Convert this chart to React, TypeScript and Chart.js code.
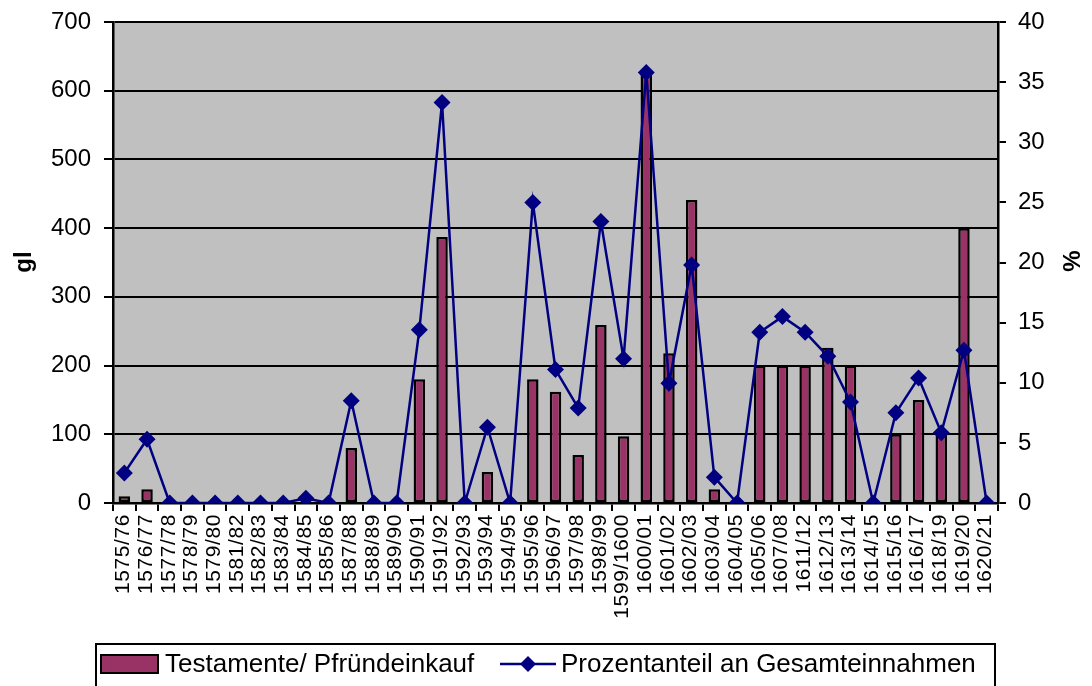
import React, { useEffect, useRef } from "react";
import { Chart, registerables } from "chart.js";

Chart.register(...registerables);

const categories = [
  "1575/76", "1576/77", "1577/78", "1578/79", "1579/80", "1581/82", "1582/83", "1583/84",
  "1584/85", "1585/86", "1587/88", "1588/89", "1589/90", "1590/91", "1591/92", "1592/93",
  "1593/94", "1594/95", "1595/96", "1596/97", "1597/98", "1598/99", "1599/1600", "1600/01",
  "1601/02", "1602/03", "1603/04", "1604/05", "1605/06", "1607/08", "1611/12", "1612/13",
  "1613/14", "1614/15", "1615/16", "1616/17", "1618/19", "1619/20", "1620/21",
];

const testamente = [
  10, 20, 0, 0, 0, 0, 0, 0,
  0, 0, 80, 0, 0, 180, 387, 0,
  45, 0, 180, 162, 70, 259, 97, 627,
  218, 441, 20, 0, 200, 200, 200, 226,
  200, 0, 100, 150, 100, 400, 0,
];

const prozent = [
  2.5, 5.3, 0, 0, 0, 0, 0, 0,
  0.4, 0, 8.5, 0, 0, 14.4, 33.3, 0,
  6.3, 0, 25.0, 11.1, 7.9, 23.4, 12.0, 35.8,
  9.95, 19.8, 2.15, 0, 14.2, 15.5, 14.2, 12.2,
  8.4, 0, 7.5, 10.4, 5.85, 12.7, 0,
];

const leftTicks = { min: 0, max: 700, step: 100 };
const rightTicks = { min: 0, max: 40, step: 5 };

const seriesNames = ["Testamente/ Pfründeinkauf", "Prozentanteil an Gesamteinnahmen"];
const axisTitles = { left: "gl", right: "%" };

const FONT = '"Liberation Sans", Arial, sans-serif';
const BAR_COLOR = "#993366";
const LINE_COLOR = "#000080";

const customPlugin = {
  id: "custom",
  beforeDraw(chart: any) {
    const { ctx, chartArea } = chart;
    ctx.save();
    ctx.fillStyle = "#FFFFFF";
    ctx.fillRect(0, 0, chart.width, chart.height);
    ctx.fillStyle = "#C0C0C0";
    ctx.fillRect(chartArea.left, chartArea.top, chartArea.right - chartArea.left, chartArea.bottom - chartArea.top);
    ctx.restore();
  },
  afterDraw(chart: any) {
    const { ctx } = chart;
    const xs = chart.scales.x;
    ctx.save();
    // x labels
    ctx.fillStyle = "#000";
    ctx.font = `21px ${FONT}`;
    ctx.textAlign = "right";
    ctx.textBaseline = "middle";
    try { (ctx as any).letterSpacing = "0.6px"; } catch (e) {}
    categories.forEach((lab, i) => {
      const x = xs.getPixelForValue(i) - 1;
      ctx.save();
      ctx.translate(x, 514);
      ctx.rotate(-Math.PI / 2);
      ctx.fillText(lab, 0, 0);
      ctx.restore();
    });
    try { (ctx as any).letterSpacing = "0px"; } catch (e) {}
    // axis titles
    ctx.font = `bold 24px ${FONT}`;
    ctx.textAlign = "center";
    ctx.textBaseline = "middle";
    ctx.save();
    ctx.translate(24, 262);
    ctx.rotate(-Math.PI / 2);
    ctx.fillText(axisTitles.left, 0, 0);
    ctx.restore();
    ctx.save();
    ctx.translate(1073, 261);
    ctx.rotate(-Math.PI / 2);
    ctx.fillText(axisTitles.right, 0, 0);
    ctx.restore();
    // legend box
    ctx.strokeStyle = "#000";
    ctx.lineWidth = 2;
    ctx.strokeRect(96, 644, 899, 50);
    // bar swatch
    ctx.fillStyle = BAR_COLOR;
    ctx.fillRect(101, 655, 57, 18);
    ctx.lineWidth = 2;
    ctx.strokeRect(101, 655, 57, 18);
    ctx.fillStyle = "#000";
    ctx.font = `26px ${FONT}`;
    ctx.textAlign = "left";
    ctx.textBaseline = "middle";
    ctx.fillText(seriesNames[0], 165, 665);
    // line swatch
    ctx.strokeStyle = LINE_COLOR;
    ctx.lineWidth = 2.5;
    ctx.beginPath();
    ctx.moveTo(500, 664);
    ctx.lineTo(556, 664);
    ctx.stroke();
    ctx.fillStyle = LINE_COLOR;
    ctx.beginPath();
    ctx.moveTo(528, 656);
    ctx.lineTo(536, 664);
    ctx.lineTo(528, 672);
    ctx.lineTo(520, 664);
    ctx.closePath();
    ctx.fill();
    ctx.fillStyle = "#000";
    ctx.fillText(seriesNames[1], 561, 665);
    ctx.restore();
  },
};

export default function App() {
  const ref = useRef<HTMLCanvasElement>(null);
  useEffect(() => {
    if (!ref.current) return;
    const chart = new Chart(ref.current, {
      type: "bar",
      data: {
        labels: categories,
        datasets: [
          {
            type: "bar",
            label: seriesNames[0],
            data: testamente,
            backgroundColor: BAR_COLOR,
            borderColor: "#000",
            borderWidth: 2.5,
            borderSkipped: false,
            barPercentage: 0.55,
            categoryPercentage: 0.92,
            yAxisID: "y",
            order: 1,
          } as any,
          {
            type: "line",
            label: seriesNames[1],
            data: prozent,
            borderColor: LINE_COLOR,
            backgroundColor: LINE_COLOR,
            borderWidth: 2.5,
            pointStyle: "rectRot",
            pointRadius: 8.5,
            pointBorderWidth: 0,
            pointBackgroundColor: LINE_COLOR,
            tension: 0,
            yAxisID: "y1",
            order: 0,
          } as any,
        ],
      },
      options: {
        responsive: false,
        animation: false,
        devicePixelRatio: 1,
        layout: { padding: { top: 22, left: 0, right: 0, bottom: 0 } },
        plugins: { legend: { display: false }, tooltip: { enabled: false } },
        scales: {
          x: {
            type: "category",
            offset: true,
            grid: {
              offset: true,
              drawOnChartArea: false,
              drawTicks: true,
              tickLength: 8,
              color: "#000",
              lineWidth: 2,
            },
            border: { display: true, color: "#000", width: 2.5 },
            ticks: { display: false },
            afterFit: (s: any) => { s.height = 183; },
          },
          y: {
            position: "left",
            min: leftTicks.min,
            max: leftTicks.max,
            grid: { color: "#000", lineWidth: 2, tickLength: 9, drawTicks: true },
            border: { display: true, color: "#000", width: 2.5 },
            ticks: {
              stepSize: leftTicks.step,
              color: "#000",
              font: { family: FONT, size: 24 },
              padding: 13,
            },
            afterFit: (s: any) => { s.width = 113; s.paddingTop = 0; s.paddingBottom = 0; },
          },
          y1: {
            position: "right",
            min: rightTicks.min,
            max: rightTicks.max,
            grid: { drawOnChartArea: false, color: "#000", lineWidth: 2, tickLength: 8, drawTicks: true },
            border: { display: true, color: "#000", width: 2.5 },
            ticks: {
              stepSize: rightTicks.step,
              color: "#000",
              font: { family: FONT, size: 24 },
              padding: 12,
            },
            afterFit: (s: any) => { s.width = 94; s.paddingTop = 0; s.paddingBottom = 0; },
          },
        },
      },
      plugins: [customPlugin],
    });
    return () => chart.destroy();
  }, []);
  return (
    <div style={{ position: "absolute", left: 0, top: 0, width: 1092, height: 686 }}>
      <canvas ref={ref} width={1092} height={686} style={{ display: "block" }} />
    </div>
  );
}
